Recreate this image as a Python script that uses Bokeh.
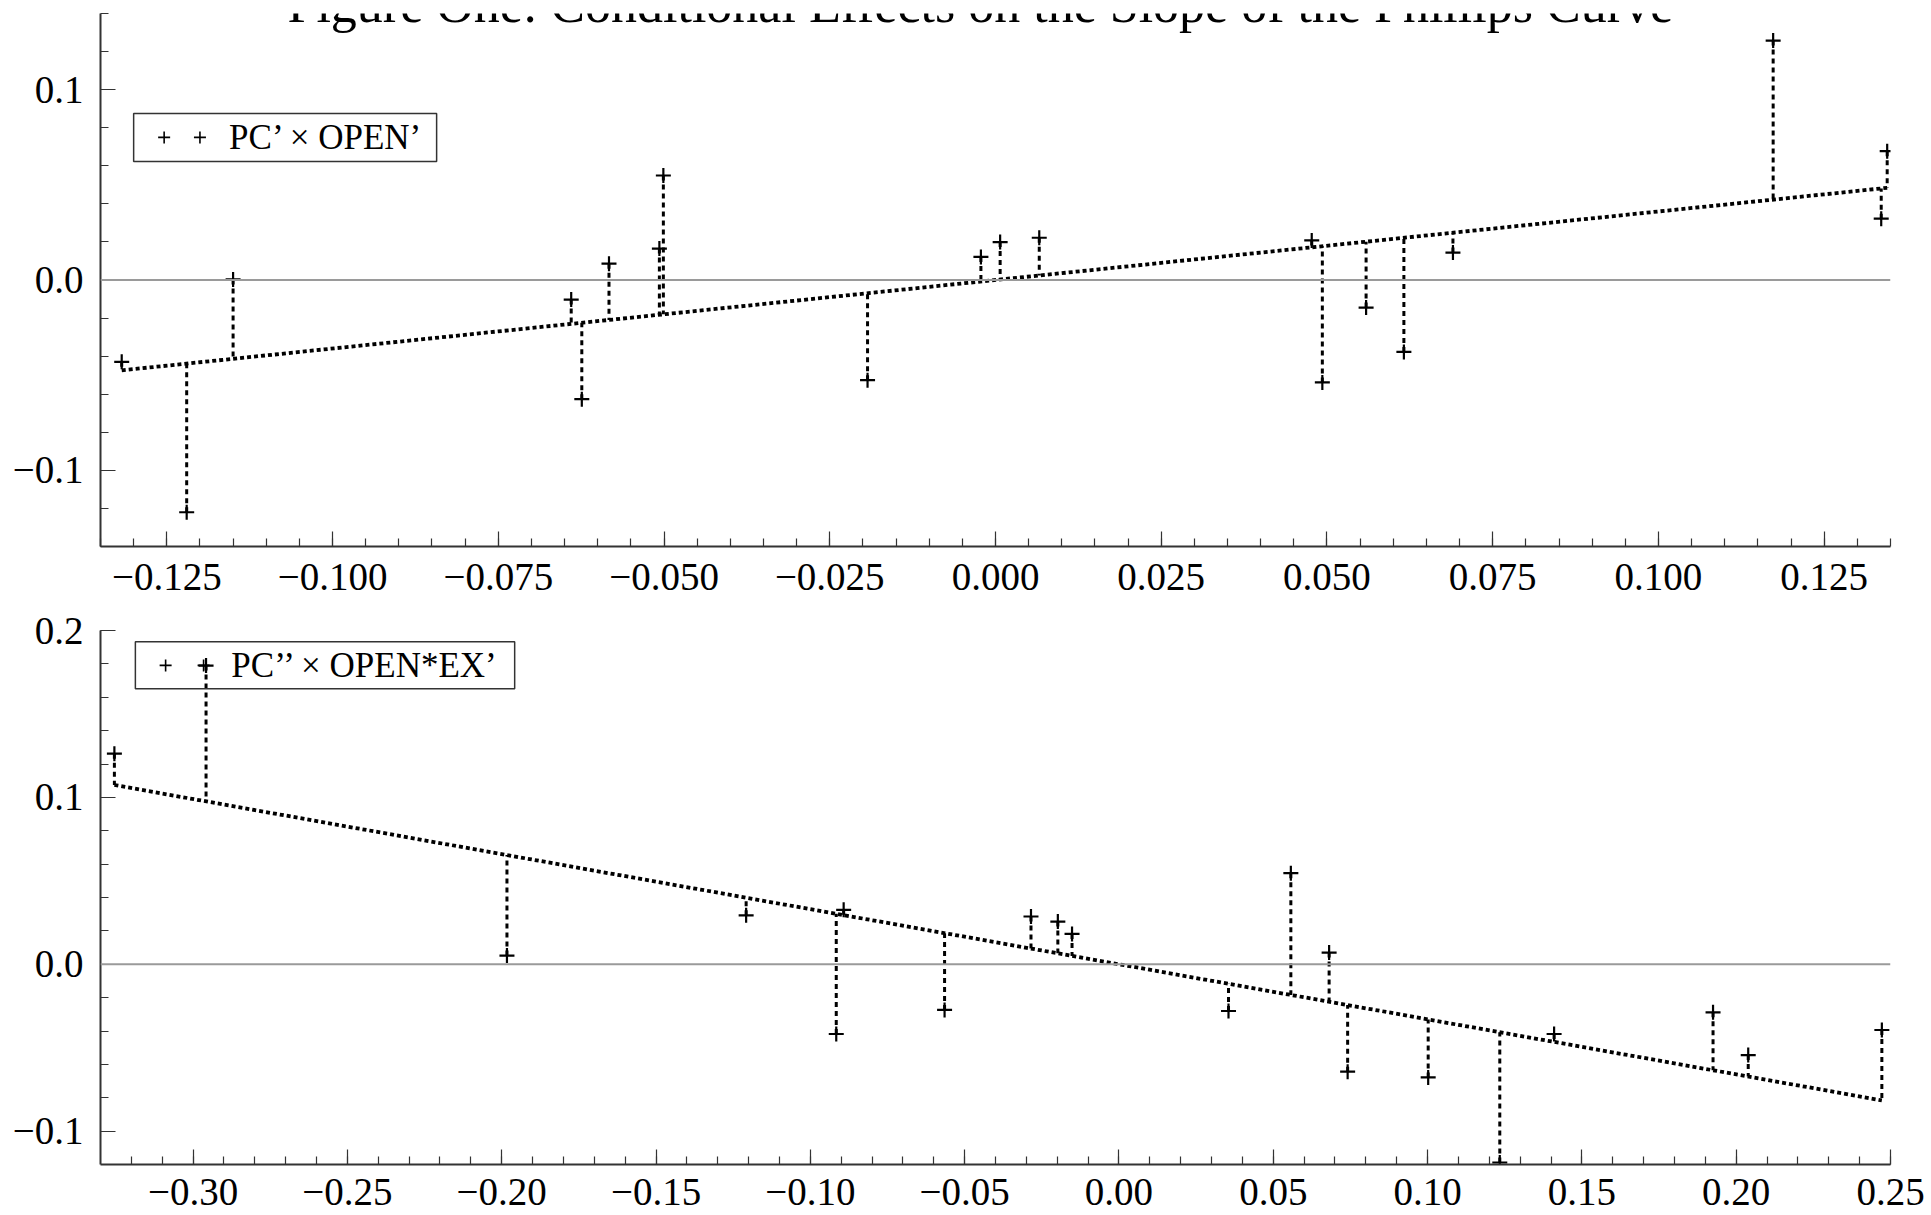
from bokeh.plotting import figure
from bokeh.layouts import column
from bokeh.models import (Range1d, SingleIntervalTicker, CustomJSTickFormatter,
                          Span, Label, BoxAnnotation, ColumnDataSource)
from bokeh.embed import file_html
from bokeh.resources import INLINE

TITLE = "Figure One: Conditional Effects on the Slope of the Phillips Curve"

# ---- panel 1 data: PC' x OPEN' ----
open_label = "PC\u2019 \u00d7 OPEN\u2019"
open_x = [-0.1318, -0.1220, -0.1150, -0.0640, -0.0624, -0.0583, -0.0507, -0.0501,
          -0.0193, -0.0022, 0.0007, 0.0066, 0.0477, 0.0493, 0.0559, 0.0616,
          0.0690, 0.1173, 0.1345, 0.1336]
open_y = [-0.0430, -0.1220, 0.0003, -0.0103, -0.0626, 0.0086, 0.0165, 0.0549,
          -0.0526, 0.0121, 0.0199, 0.0222, 0.0208, -0.0538, -0.0145, -0.0378,
          0.0144, 0.1258, 0.0677, 0.0322]
open_slope = 0.36

# ---- panel 2 data: PC'' x OPEN*EX' ----
ex_label = "PC\u2019\u2019 \u00d7 OPEN*EX\u2019"
ex_x = [-0.3255, -0.2958, -0.1983, -0.1208, -0.0916, -0.0892, -0.0565, -0.0285,
        -0.0198, -0.0152, 0.0355, 0.0557, 0.0681, 0.0741, 0.1002, 0.1234,
        0.1410, 0.1925, 0.2039, 0.2472]
ex_y = [0.1262, 0.1790, 0.0052, 0.0293, -0.0418, 0.0326, -0.0274, 0.0286,
        0.0256, 0.0182, -0.0280, 0.0546, 0.0070, -0.0644, -0.0678, -0.1188,
        -0.0418, -0.0288, -0.0544, -0.0394]
ex_slope = -0.33

FONT = "Liberation Serif"
AX = "#333333"


def fmt(dec):
    return CustomJSTickFormatter(code=f"""
        if (Math.abs(tick) < 1e-9) {{ return (0).toFixed({dec}); }}
        const s = Math.abs(tick).toFixed({dec});
        return tick < 0 ? "\u2212" + s : s;
    """)


def panel(xs, ys, slope, xr, yr, xint, yint, xdec, height, mb_top, mb_bottom,
          x_standoff, leg_box, leg_marks, leg_text, label_text):
    p = figure(width=1931, height=height, x_range=Range1d(*xr), y_range=Range1d(*yr),
               output_backend="svg", toolbar_location=None,
               min_border_left=100, min_border_right=41,
               min_border_top=mb_top, min_border_bottom=mb_bottom)
    p.outline_line_color = None
    p.grid.visible = False
    p.background_fill_color = "white"

    p.xaxis.ticker = SingleIntervalTicker(interval=xint, num_minor_ticks=5)
    p.yaxis.ticker = SingleIntervalTicker(interval=yint, num_minor_ticks=5)
    p.xaxis.formatter = fmt(xdec)
    p.yaxis.formatter = fmt(1)
    for ax in (p.xaxis[0], p.yaxis[0]):
        ax.axis_line_color = AX
        ax.axis_line_width = 2
        ax.major_tick_line_color = AX
        ax.minor_tick_line_color = AX
        ax.major_tick_line_width = 1.2
        ax.minor_tick_line_width = 1.2
        ax.major_tick_in = 15
        ax.major_tick_out = 0
        ax.minor_tick_in = 8
        ax.minor_tick_out = 0
        ax.major_label_text_font = FONT
        ax.major_label_text_font_size = "39px"
        ax.major_label_text_color = "black"
    p.yaxis.major_label_standoff = 17
    p.xaxis.major_label_standoff = x_standoff

    p.add_layout(Span(location=0, dimension="width", line_color="#9a9a9a", line_width=2))

    fit = [slope * v for v in xs]
    src = ColumnDataSource(dict(x=xs, y=ys, fit=fit))
    lo, hi = min(xs), max(xs)
    p.line(x=[lo, hi], y=[slope * lo, slope * hi], line_color="black",
           line_width=3.8, line_dash="4 3")
    p.segment(x0="x", y0="y", x1="x", y1="fit", source=src, line_color="black",
              line_width=3, line_dash="5 4")
    p.scatter(x="x", y="y", source=src, marker="cross", size=15, line_width=2.2,
              line_color="black")

    # legend box
    l, r, t, b = leg_box
    p.add_layout(BoxAnnotation(left=l, right=r, top=t, bottom=b, fill_color=None,
                               fill_alpha=0, line_color=AX, line_alpha=1, line_width=1.5))
    p.scatter(x=leg_marks[0], y=leg_marks[1], marker="cross", size=12, line_width=1.6,
              line_color="black")
    p.add_layout(Label(x=leg_text[0], y=leg_text[1], text=label_text, text_font=FONT,
                       text_font_size="35px", text_color="black",
                       text_baseline="middle", text_align="left"))
    return p


p1 = panel(open_x, open_y, open_slope, (-0.135, 0.135), (-0.14, 0.14), 0.025, 0.1, 3,
           599, 13, 53, 17,
           (-0.1300, -0.0843, 0.0875, 0.0623),
           ([-0.1254, -0.1200], [0.0749, 0.0749]),
           (-0.1156, 0.0749), open_label)
p1.add_layout(Label(x=-0.0023, y=0.1447, text=TITLE, text_font=FONT, text_font_size="52px",
                    text_color="black", text_align="center", text_baseline="middle"))

p2 = panel(ex_x, ex_y, ex_slope, (-0.33, 0.25), (-0.12, 0.20), 0.05, 0.1, 2,
           616, 31, 51, 14,
           (-0.3187, -0.1958, 0.1933, 0.1651),
           ([-0.3089, -0.2966], [0.1791, 0.1791]),
           (-0.2876, 0.1791), ex_label)

layout = column(p1, p2, spacing=0)
open("out.html", "w").write(file_html(layout, INLINE))
